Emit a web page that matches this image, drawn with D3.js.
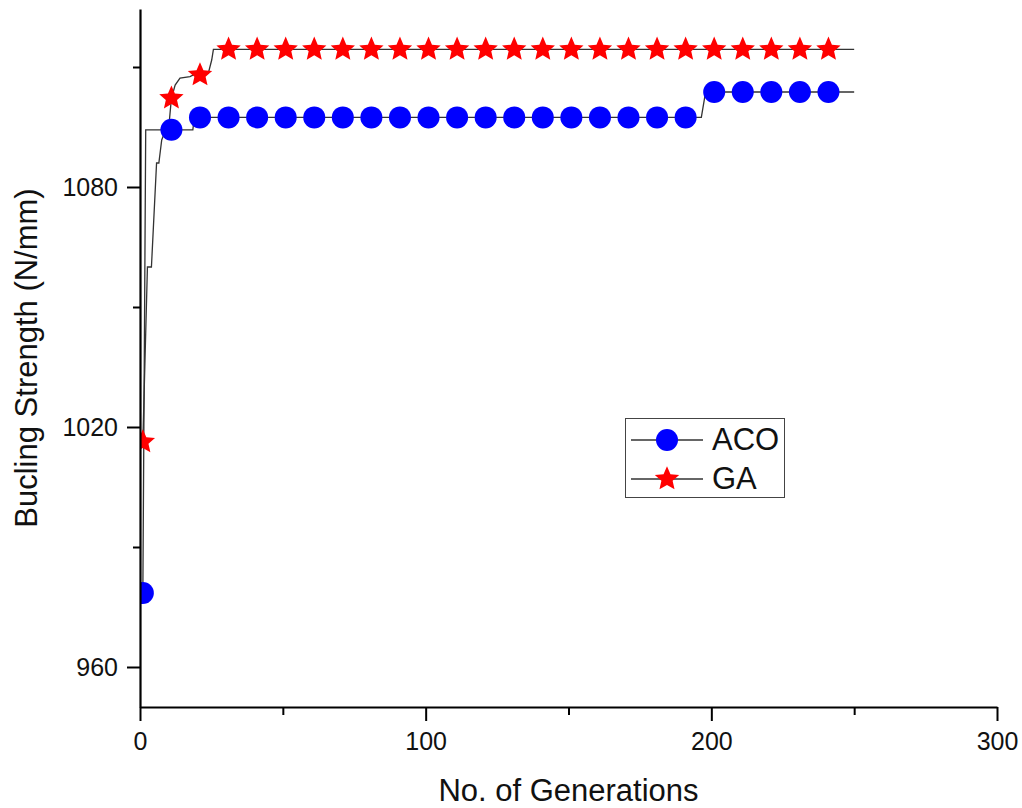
<!DOCTYPE html>
<html>
<head>
<meta charset="utf-8">
<script src="https://cdn.jsdelivr.net/npm/d3@7"></script>
<style>
  body { margin: 0; background: #fff; }
  svg { display: block; font-family: Arial, "Liberation Sans", sans-serif; }
</style>
</head>
<body>
<svg id="chart" width="1022" height="808"></svg>
<script>
// line traces (generation, strength)
const acoLineGen = [1, 2, 18.5, 19, 196.5, 198, 250];
const acoLineVal = [978.5, 1094.3, 1094.3, 1097.4, 1097.4, 1103.75, 1103.75];
const gaLineGen = [1, 2.6, 4, 5.8, 6.6, 7.6, 10.3, 11, 12.3, 14, 17.5, 18.7, 23.9, 25.1, 25.7, 250];
const gaLineVal = [1016.25, 1060, 1060, 1086, 1086, 1091.75, 1096.75, 1102.2, 1105.5, 1107.2, 1107.6, 1108, 1108.4, 1111.75, 1114.4, 1114.4];

// marker positions
const markerGen = [1, 11, 21, 31, 41, 51, 61, 71, 81, 91, 101, 111, 121, 131, 141, 151, 161, 171, 181, 191, 201, 211, 221, 231, 241];
const acoMarkers = [978.5, 1094.3, 1097.4, 1097.4, 1097.4, 1097.4, 1097.4, 1097.4, 1097.4, 1097.4, 1097.4, 1097.4, 1097.4,
  1097.4, 1097.4, 1097.4, 1097.4, 1097.4, 1097.4, 1097.4, 1103.75, 1103.75, 1103.75, 1103.75, 1103.75];
const gaMarkers = [1016.25, 1102.2, 1108, 1114.4, 1114.4, 1114.4, 1114.4, 1114.4, 1114.4, 1114.4, 1114.4, 1114.4, 1114.4,
  1114.4, 1114.4, 1114.4, 1114.4, 1114.4, 1114.4, 1114.4, 1114.4, 1114.4, 1114.4, 1114.4, 1114.4];

const xMajor = [0, 100, 200, 300];
const xMinor = [50, 150, 250];
const yMajor = [960, 1020, 1080];
const yMinor = [990, 1050, 1110];

const svg = d3.select("#chart");
const plotLeft = 140, plotRight = 997, plotTop = 9, plotBottom = 707;

const x = d3.scaleLinear().domain([0, 300]).range([plotLeft, plotRight]);
const y = d3.scaleLinear().domain([950, 1124.5]).range([plotBottom, plotTop]);

svg.append("clipPath").attr("id", "plotclip")
  .append("rect")
  .attr("x", plotLeft).attr("y", 0)
  .attr("width", plotRight - plotLeft).attr("height", plotBottom);

const plot = svg.append("g").attr("clip-path", "url(#plotclip)");

const line = d3.line().x(d => x(d[0])).y(d => y(d[1]));

plot.append("path")
  .datum(acoLineGen.map((g, i) => [g, acoLineVal[i]]))
  .attr("fill", "none")
  .attr("stroke", "#333")
  .attr("stroke-width", 1.3)
  .attr("d", line);

plot.append("path")
  .datum(gaLineGen.map((g, i) => [g, gaLineVal[i]]))
  .attr("fill", "none")
  .attr("stroke", "#333")
  .attr("stroke-width", 1.3)
  .attr("d", line);

// chunkier star than d3.symbolStar (origin-style)
const fatStar = {
  draw(context, size) {
    const R = Math.sqrt(size), r = R * 0.46;
    for (let i = 0; i < 10; i++) {
      const a = -Math.PI / 2 + i * Math.PI / 5;
      const rad = i % 2 ? r : R;
      if (i === 0) context.moveTo(rad * Math.cos(a), rad * Math.sin(a));
      else context.lineTo(rad * Math.cos(a), rad * Math.sin(a));
    }
    context.closePath();
  }
};
const starPath = d3.symbol().type(fatStar).size(12.8 * 12.8)();

plot.selectAll(".aco")
  .data(markerGen.map((g, i) => [g, acoMarkers[i]]))
  .enter().append("circle")
  .attr("class", "aco")
  .attr("cx", d => x(d[0]))
  .attr("cy", d => y(d[1]))
  .attr("r", 11)
  .attr("fill", "#0000ff");

plot.selectAll(".ga")
  .data(markerGen.map((g, i) => [g, gaMarkers[i]]))
  .enter().append("path")
  .attr("class", "ga")
  .attr("d", starPath)
  .attr("transform", d => "translate(" + x(d[0]) + "," + y(d[1]) + ")")
  .attr("fill", "#ff0000");

// axes
function styleAxis(g) {
  g.selectAll(".domain").attr("stroke", "#000").attr("stroke-width", 2.2);
  g.selectAll(".tick line").attr("stroke", "#000").attr("stroke-width", 2);
  g.selectAll(".tick text").attr("fill", "#111").style("font-size", "25px")
    .style("font-family", "Arial, 'Liberation Sans', sans-serif");
}

svg.append("g")
  .attr("transform", "translate(0," + plotBottom + ")")
  .call(d3.axisBottom(x).tickValues(xMinor).tickSize(8).tickSizeOuter(0).tickFormat(""))
  .call(g => g.select(".domain").remove())
  .call(styleAxis);
svg.append("g")
  .attr("transform", "translate(0," + plotBottom + ")")
  .call(d3.axisBottom(x).tickValues(xMajor).tickSize(14).tickSizeOuter(0).tickPadding(11).tickFormat(d3.format("d")))
  .call(styleAxis);

svg.append("g")
  .attr("transform", "translate(" + plotLeft + ",0)")
  .call(d3.axisLeft(y).tickValues(yMinor).tickSize(7).tickSizeOuter(0).tickFormat(""))
  .call(g => g.select(".domain").remove())
  .call(styleAxis);
svg.append("g")
  .attr("transform", "translate(" + plotLeft + ",0)")
  .call(d3.axisLeft(y).tickValues(yMajor).tickSize(13).tickSizeOuter(0).tickPadding(9).tickFormat(d3.format("d")))
  .call(styleAxis);

svg.append("text")
  .attr("x", (plotLeft + plotRight) / 2)
  .attr("y", 801)
  .attr("text-anchor", "middle")
  .style("font-size", "31px")
  .attr("fill", "#111")
  .text("No. of Generations");

svg.append("text")
  .attr("transform", "translate(37," + (plotTop + plotBottom) / 2 + ") rotate(-90)")
  .attr("text-anchor", "middle")
  .style("font-size", "31px")
  .attr("fill", "#111")
  .text("Bucling Strength (N/mm)");

// legend
const legend = svg.append("g");
legend.append("rect")
  .attr("x", 625.5).attr("y", 418.5)
  .attr("width", 159).attr("height", 79)
  .attr("fill", "none")
  .attr("stroke", "#444")
  .attr("stroke-width", 1);

const legendItems = [
  { name: "ACO", cy: 440 },
  { name: "GA", cy: 479 }
];
legendItems.forEach((item, i) => {
  legend.append("line")
    .attr("x1", 631).attr("x2", 703)
    .attr("y1", item.cy).attr("y2", item.cy)
    .attr("stroke", "#333").attr("stroke-width", 1.3);
  if (i === 0) {
    legend.append("circle")
      .attr("cx", 667).attr("cy", item.cy).attr("r", 11)
      .attr("fill", "#0000ff");
  } else {
    legend.append("path")
      .attr("d", starPath)
      .attr("transform", "translate(667," + item.cy + ")")
      .attr("fill", "#ff0000");
  }
  legend.append("text")
    .attr("x", 712)
    .attr("y", item.cy + 10)
    .style("font-size", "31px")
    .attr("fill", "#111")
    .text(item.name);
});
</script>
</body>
</html>
